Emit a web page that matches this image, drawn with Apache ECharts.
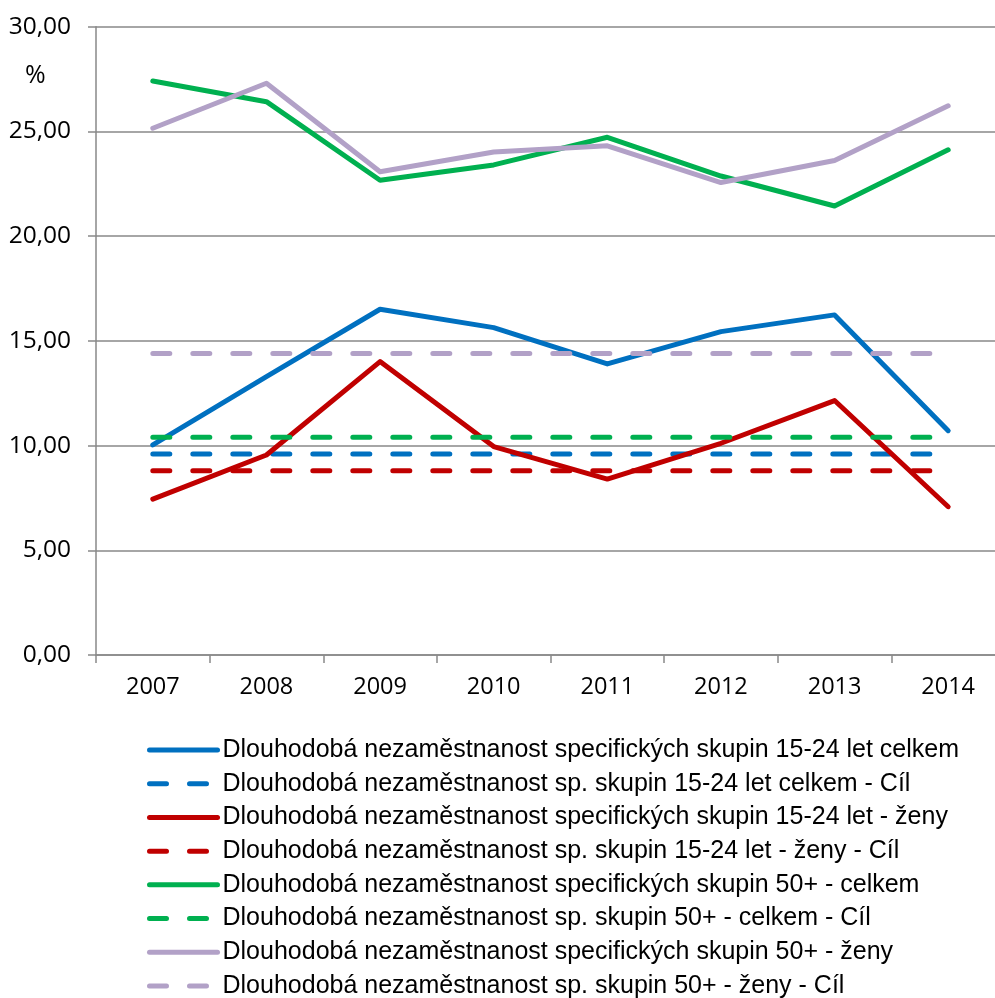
<!DOCTYPE html>
<html>
<head>
<meta charset="utf-8">
<script src="https://cdn.jsdelivr.net/npm/echarts@6/dist/echarts.min.js"></script>
<style>html,body{margin:0;padding:0;background:#fff;overflow:hidden;width:995px;height:998px;}#c{width:1010px;height:998px;}</style>
</head>
<body>
<div id="c"></div>
<script>
const years = ['2007','2008','2009','2010','2011','2012','2013','2014'];
const youthTotal = [10.03, 13.29, 16.51, 15.63, 13.90, 15.44, 16.24, 10.71];
const youthTotalTarget = [9.6, 9.6, 9.6, 9.6, 9.6, 9.6, 9.6, 9.6];
const youthWomen = [7.44, 9.55, 14.01, 9.95, 8.40, 10.11, 12.15, 7.08];
const youthWomenTarget = [8.8, 8.8, 8.8, 8.8, 8.8, 8.8, 8.8, 8.8];
const olderTotal = [27.41, 26.42, 22.67, 23.40, 24.72, 22.87, 21.44, 24.12];
const olderTotalTarget = [10.4, 10.4, 10.4, 10.4, 10.4, 10.4, 10.4, 10.4];
const olderWomen = [25.15, 27.30, 23.07, 24.02, 24.31, 22.56, 23.61, 26.22];
const olderWomenTarget = [14.4, 14.4, 14.4, 14.4, 14.4, 14.4, 14.4, 14.4];
const names = [
  'Dlouhodobá nezaměstnanost specifických skupin 15-24 let celkem',
  'Dlouhodobá nezaměstnanost sp. skupin 15-24 let celkem - Cíl',
  'Dlouhodobá nezaměstnanost specifických skupin 15-24 let - ženy',
  'Dlouhodobá nezaměstnanost sp. skupin 15-24 let - ženy - Cíl',
  'Dlouhodobá nezaměstnanost specifických skupin 50+ - celkem',
  'Dlouhodobá nezaměstnanost sp. skupin 50+ - celkem - Cíl',
  'Dlouhodobá nezaměstnanost specifických skupin 50+ - ženy',
  'Dlouhodobá nezaměstnanost sp. skupin 50+ - ženy - Cíl'
];
const datasets = [youthTotal, youthTotalTarget, youthWomen, youthWomenTarget, olderTotal, olderTotalTarget, olderWomen, olderWomenTarget];
const colors = ['#0070C0','#0070C0','#C00000','#C00000','#00B050','#00B050','#B2A1C7','#B2A1C7'];

const chart = echarts.init(document.getElementById('c'), null, {renderer:'canvas'});
const axisGray = '#898989';
const series = datasets.map((d, i) => ({
  name: names[i],
  type: 'line',
  data: d,
  symbol: 'none',
  smooth: false,
  animation: false,
  lineStyle: {
    color: colors[i],
    width: 5,
    type: i % 2 === 1 ? [17, 23] : 'solid',
    cap: 'round',
    join: 'round'
  },
  itemStyle: {color: colors[i]}
}));

chart.setOption({
  animation: false,
  color: colors,
  title: {
    text: '%', left: 20, top: 58,
    textStyle: {fontFamily: 'Open Sans', fontSize: 25, fontWeight: 'normal', color: '#000'}
  },
  grid: {left: 96, top: 26.7, height: 628.3, width: 909, containLabel: false},
  xAxis: {
    type: 'category',
    data: years,
    boundaryGap: true,
    axisLine: {lineStyle: {color: axisGray, width: 1.5}},
    axisTick: {show: true, length: 8, lineStyle: {color: axisGray, width: 1.5}},
    axisLabel: {fontFamily: 'Open Sans', fontSize: 23.5, color: '#000', margin: 20}
  },
  yAxis: {
    type: 'value',
    min: 0, max: 30, interval: 5,
    axisLine: {show: true, lineStyle: {color: axisGray, width: 1.5}},
    axisTick: {show: true, length: 8, lineStyle: {color: axisGray, width: 1.5}},
    splitLine: {show: true, lineStyle: {color: axisGray, width: 1.5}},
    axisLabel: {
      fontFamily: 'Open Sans', fontSize: 24.5, color: '#000', margin: 25,
      formatter: v => v.toFixed(2).replace('.', ',')
    }
  },
  legend: {
    orient: 'vertical',
    left: 147, top: 735,
    height: 400,
    padding: 0,
    itemGap: 3.71,
    itemWidth: 68,
    itemHeight: 5,
    itemStyle: {opacity: 0},
    lineStyle: {width: 5, cap: 'round'},
    textStyle: {fontFamily: 'Liberation Sans', fontSize: 25, color: '#000', lineHeight: 30},
    data: names
  },
  series: series
});
</script>
</body>
</html>
